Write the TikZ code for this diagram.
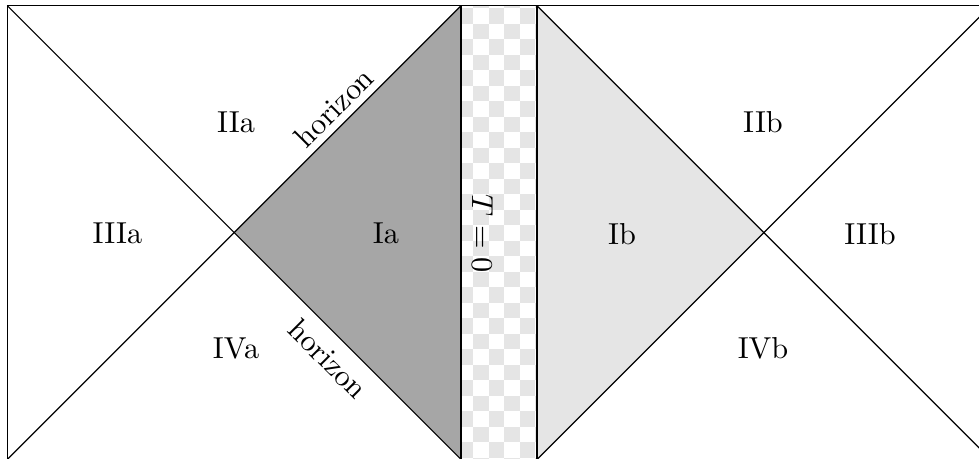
\documentclass[tikz,border=0pt]{standalone}
\begin{document}
\begin{tikzpicture}[x=0.33pt,y=-0.33pt,
  lbl/.style={inner sep=0pt},
  darkfill/.style={fill=black!35},
  lightfill/.style={fill=black!10},
  checkcol/.style={fill=black!10}]
\useasboundingbox (0,0) rectangle (979,459);
\clip (0,0) rectangle (979,459);
% key points
\coordinate (TL) at (7.3,5.7);
\coordinate (BL) at (7.3,459.4);
\coordinate (SLT) at (461,5.7);
\coordinate (SLB) at (461,459.4);
\coordinate (SRT) at (537,5.7);
\coordinate (SRB) at (537,459.4);
\coordinate (TR) at (990.7,5.7);
\coordinate (BR) at (990.7,459.4);
\coordinate (CA) at (234.15,232.55);
\coordinate (CB) at (763.85,232.55);
% shaded wedges
\fill[darkfill] (SLT) -- (CA) -- (SLB) -- cycle;
\fill[lightfill] (SRT) -- (CB) -- (SRB) -- cycle;
% checkerboard strip
\begin{scope}
  \clip (SLT) rectangle (SRB);
  \foreach \i in {0,...,5}{
    \foreach \j in {-1,...,30}{
      \pgfmathtruncatemacro{\cpar}{mod(\i+\j+40,2)}
      \ifnum\cpar=0
        \fill[checkcol] ({457.8+15.5*\i},{8.3+15.5*\j}) rectangle ++(15.5,15.5);
      \fi
    }
  }
\end{scope}
% frame (bottom and right edges lie outside the visible area)
\draw (BL) -- (TL) -- (TR);
\draw (SLT) -- (SLB);
\draw (SRT) -- (SRB);
% diagonals
\draw (TL) -- (CA) -- (SLB);
\draw (BL) -- (CA) -- (SLT);
\draw (SRT) -- (CB) -- (BR);
\draw (SRB) -- (CB) -- (TR);
% labels
\node[lbl] (IIa) at (236,122) {IIa};
\node[lbl] (IIIa) at (117.5,233.7) {IIIa};
\node[lbl] (Ia) at (386,233.7) {Ia};
\node[lbl] (IVa) at (236,348) {IVa};
\node[lbl] (Ib) at (622,233.7) {Ib};
\node[lbl] (IIb) at (763,122) {IIb};
\node[lbl] (IIIb) at (870,233.7) {IIIb};
\node[lbl] (IVb) at (763,348) {IVb};
\node[lbl,rotate=45] (hor1) at (334,107.5) {horizon};
\node[lbl,rotate=-45] (hor2) at (328,359) {horizon};
\node[lbl,rotate=-90] (T0) at (482.5,233.5) {$T=0$};
\end{tikzpicture}
\end{document}
